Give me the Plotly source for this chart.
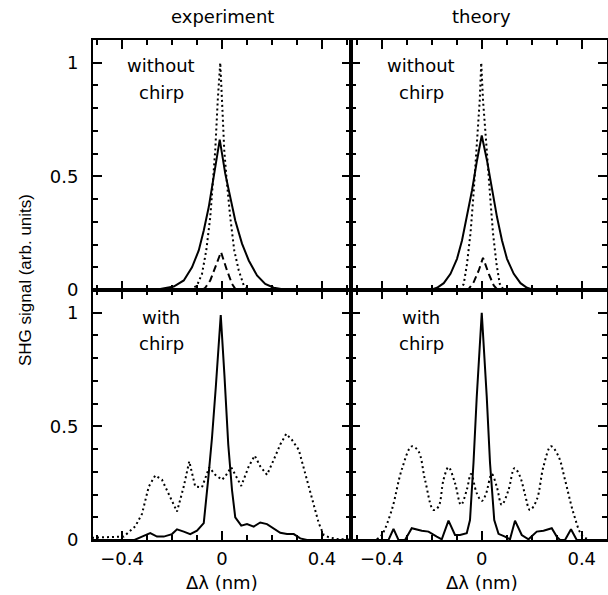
import plotly.graph_objects as go
from plotly.subplots import make_subplots

# ---------------- data ----------------
# experiment, without chirp
exp_nc_solid_x = [-0.52, -0.3, -0.247, -0.193, -0.153, -0.12, -0.093, -0.073, -0.053, -0.033, -0.009,
                  0.013, 0.033, 0.053, 0.08, 0.107, 0.14, 0.173, 0.207, 0.26, 0.52]
exp_nc_solid_y = [0, 0, 0.004, 0.015, 0.042, 0.1, 0.174, 0.262, 0.365, 0.497, 0.662,
                  0.512, 0.409, 0.306, 0.204, 0.13, 0.064, 0.027, 0.01, 0, 0]
exp_nc_dot_x = [-0.127, -0.1, -0.08, -0.063, -0.047, -0.036, -0.027, -0.017, -0.007,
                0.0, 0.009, 0.02, 0.033, 0.049, 0.067, 0.087, 0.113]
exp_nc_dot_y = [0, 0.02, 0.071, 0.174, 0.32, 0.468, 0.615, 0.835, 1.0,
                0.835, 0.615, 0.468, 0.32, 0.174, 0.086, 0.02, 0]
exp_nc_dash_x = [-0.08, -0.067, -0.047, -0.027, -0.004, 0.02, 0.04, 0.053, 0.065]
exp_nc_dash_y = [0, 0.01, 0.042, 0.1, 0.167, 0.086, 0.027, 0.005, 0]

# theory, without chirp
th_nc_solid_x = [-0.52, -0.205, -0.179, -0.152, -0.125, -0.099, -0.079, -0.059, -0.039, -0.019, 0,
                 0.021, 0.041, 0.061, 0.081, 0.101, 0.128, 0.155, 0.181, 0.208, 0.52]
th_nc_solid_y = [0, 0, 0.01, 0.03, 0.071, 0.137, 0.218, 0.321, 0.438, 0.57, 0.68,
                 0.57, 0.438, 0.321, 0.218, 0.137, 0.071, 0.03, 0.01, 0, 0]
th_nc_dot_x = [-0.085, -0.072, -0.059, -0.045, -0.035, -0.025, -0.016, -0.008, -0.002,
               0.005, 0.015, 0.024, 0.035, 0.045, 0.059, 0.072, 0.088]
th_nc_dot_y = [0, 0.027, 0.115, 0.25, 0.39, 0.54, 0.69, 0.835, 1.0,
               0.835, 0.69, 0.54, 0.39, 0.25, 0.115, 0.027, 0]
th_nc_dash_x = [-0.065, -0.052, -0.032, -0.012, 0.005, 0.028, 0.048, 0.064]
th_nc_dash_y = [0, 0.005, 0.035, 0.086, 0.142, 0.071, 0.02, 0]

# experiment, with chirp
exp_c_solid_x = [-0.52, -0.35, -0.32, -0.287, -0.26, -0.233, -0.2, -0.18, -0.153, -0.127, -0.1,
                 -0.073, -0.055, -0.04, -0.025, -0.005, 0.01, 0.025, 0.04, 0.053, 0.077, 0.1,
                 0.127, 0.153, 0.18, 0.207, 0.233, 0.26, 0.287, 0.313, 0.34, 0.52]
exp_c_solid_y = [0, 0, 0.015, 0.03, 0.015, 0.015, 0.026, 0.047, 0.037, 0.026, 0.041,
                 0.074, 0.27, 0.45, 0.67, 0.99, 0.72, 0.42, 0.22, 0.1, 0.063, 0.07,
                 0.059, 0.077, 0.07, 0.052, 0.032, 0.026, 0.026, 0.007, 0, 0]
exp_c_dot_x = [-0.52, -0.393, -0.347, -0.32, -0.293, -0.267, -0.24, -0.207, -0.18, -0.153, -0.131,
               -0.107, -0.08, -0.051, -0.027, 0, 0.013, 0.037, 0.057, 0.077, 0.107, 0.131,
               0.153, 0.18, 0.207, 0.233, 0.257, 0.28, 0.307, 0.333, 0.36, 0.387, 0.407,
               0.427, 0.467, 0.52]
exp_c_dot_y = [0.01, 0.015, 0.06, 0.115, 0.235, 0.284, 0.265, 0.19, 0.125, 0.235, 0.346,
               0.235, 0.232, 0.32, 0.287, 0.265, 0.28, 0.32, 0.28, 0.238, 0.324, 0.371,
               0.324, 0.287, 0.353, 0.42, 0.467, 0.44, 0.397, 0.294, 0.177, 0.074, 0.022,
               0.012, 0.003, 0.003]

# theory, with chirp
th_c_solid_x = [-0.53, -0.42, -0.373, -0.353, -0.333, -0.307, -0.28, -0.24, -0.213, -0.18, -0.16,
                -0.133, -0.107, -0.087, -0.06, -0.047, -0.033, -0.02, 0, 0.02, 0.033, 0.05,
                0.067, 0.093, 0.113, 0.133, 0.16, 0.187, 0.22, 0.247, 0.28, 0.3, 0.313,
                0.333, 0.357, 0.38, 0.52]
th_c_solid_y = [0, 0, 0, 0.049, 0, 0, 0.052, 0.041, 0.037, 0.015, 0.003,
                0.085, 0.022, 0.022, 0.03, 0.088, 0.34, 0.63, 1.0, 0.63, 0.34, 0.088,
                0.027, 0.015, 0.003, 0.085, 0.022, 0.003, 0.037, 0.041, 0.052, 0.015, 0,
                0, 0.047, 0, 0]
th_c_dot_x = [-0.42, -0.4, -0.36, -0.32, -0.28, -0.253, -0.227, -0.193, -0.173, -0.153, -0.133,
              -0.107, -0.083, -0.06, -0.043, -0.02, 0, 0.016, 0.04, 0.06, 0.08, 0.107, 0.131,
              0.153, 0.173, 0.193, 0.22, 0.247, 0.277, 0.307, 0.333, 0.367, 0.4, 0.427]
th_c_dot_y = [0.003, 0.022, 0.132, 0.31, 0.412, 0.39, 0.265, 0.132, 0.147, 0.265, 0.32,
              0.25, 0.155, 0.22, 0.29, 0.206, 0.172, 0.2, 0.29, 0.235, 0.155, 0.22, 0.316,
              0.28, 0.2, 0.132, 0.177, 0.324, 0.412, 0.368, 0.265, 0.118, 0.022, 0.003]

column_titles = ["experiment", "theory"]
x_tick_vals = [-0.4, 0, 0.4]
x_tick_text = ["\u22120.4", "0", "0.4"]
y_tick_vals = [0, 0.5, 1]
y_tick_text = ["0", "0.5", "1"]
x_title = "\u0394\u03bb (nm)"
y_title = "SHG signal (arb. units)"

# ---------------- figure ----------------
FONT = "DejaVu Sans"
fig = make_subplots(rows=2, cols=2, horizontal_spacing=0, vertical_spacing=0)

def add(x, y, row, col, dash, shape="linear"):
    fig.add_trace(go.Scatter(x=x, y=y, mode="lines",
                             line=dict(color="black", width=2, dash=dash, shape=shape),
                             showlegend=False, hoverinfo="skip"), row=row, col=col)

DOT = "2px,3px"
DASH = "7px,4px"
add(exp_nc_solid_x, exp_nc_solid_y, 1, 1, "solid")
add(exp_nc_dot_x, exp_nc_dot_y, 1, 1, DOT)
add(exp_nc_dash_x, exp_nc_dash_y, 1, 1, DASH)
add(th_nc_solid_x, th_nc_solid_y, 1, 2, "solid")
add(th_nc_dot_x, th_nc_dot_y, 1, 2, DOT)
add(th_nc_dash_x, th_nc_dash_y, 1, 2, DASH)
add(exp_c_solid_x, exp_c_solid_y, 2, 1, "solid")
add(exp_c_dot_x, exp_c_dot_y, 2, 1, DOT)
add(th_c_solid_x, th_c_solid_y, 2, 2, "solid")
add(th_c_dot_x, th_c_dot_y, 2, 2, DOT, "spline")

W, H = 608, 595
L, R, T, B = 93, 1, 40, 55
split = (351 - L) / (W - L - R)

common_x = dict(showline=True, linewidth=2, linecolor="black", mirror="ticks",
                ticks="inside", ticklen=9, tickwidth=2, tickcolor="black",
                tickmode="array", tickvals=x_tick_vals, ticktext=x_tick_text,
                minor=dict(ticks="inside", tickmode="linear", tick0=0, dtick=0.1,
                           ticklen=5, tickwidth=1.5, tickcolor="black"),
                showgrid=False, zeroline=False, automargin=False,
                tickfont=dict(family=FONT, size=18, color="black"), ticklabelstandoff=1)
common_y = dict(showline=True, linewidth=2, linecolor="black", mirror="ticks",
                ticks="inside", ticklen=9, tickwidth=2, tickcolor="black",
                tickmode="array", tickvals=y_tick_vals, ticktext=y_tick_text,
                minor=dict(ticks="inside", tickmode="linear", tick0=0, dtick=0.1,
                           ticklen=5, tickwidth=1.5, tickcolor="black"),
                showgrid=False, zeroline=False, range=[0, 1.1], automargin=False,
                tickfont=dict(family=FONT, size=18, color="black"), ticklabelstandoff=9)

for r in (1, 2):
    for c in (1, 2):
        xr = [-0.516, 0.516] if c == 1 else [-0.523, 0.501]
        dom = [0, split] if c == 1 else [split, 1]
        fig.update_xaxes(common_x, range=xr, domain=dom, showticklabels=(r == 2), row=r, col=c)
        fig.update_yaxes(common_y, showticklabels=(c == 1), row=r, col=c)

ann = []
pw = W - L - R
for i, t in enumerate(column_titles):
    cx = (222 if i == 0 else 481.7)
    ann.append(dict(text=t, x=(cx - L) / pw, y=(540 - 17) / 500, xref="paper", yref="paper",
                    showarrow=False, font=dict(family=FONT, size=18, color="black"),
                    xanchor="center", yanchor="middle"))
    ann.append(dict(text=x_title, x=(cx - L) / pw, y=(540 - 582) / 500, xref="paper", yref="paper",
                    showarrow=False, font=dict(family=FONT, size=18, color="black"),
                    xanchor="center", yanchor="middle"))
ann.append(dict(text=y_title, x=(25 - L) / pw, y=(540 - 280) / 500, xref="paper", yref="paper",
                textangle=-90, showarrow=False,
                font=dict(family="Liberation Sans", size=17, color="black"),
                xanchor="center", yanchor="middle"))

panel_text = [("x", "y", "without", 0.99), ("x", "y", "chirp", 0.87),
              ("x2", "y2", "without", 0.99), ("x2", "y2", "chirp", 0.87),
              ("x3", "y3", "with", 0.977), ("x3", "y3", "chirp", 0.866),
              ("x4", "y4", "with", 0.977), ("x4", "y4", "chirp", 0.866)]
for xr_, yr_, t, yv in panel_text:
    ann.append(dict(text=t, x=-0.243, y=yv, xref=xr_, yref=yr_, showarrow=False,
                    font=dict(family=FONT, size=18, color="black"),
                    xanchor="center", yanchor="middle"))

fig.update_layout(width=W, height=H, margin=dict(l=L, r=R, t=T, b=B, autoexpand=False),
                  paper_bgcolor="white", plot_bgcolor="white", annotations=ann,
                  showlegend=False)
fig.write_html("out.html", config={"displayModeBar": False},
               post_script="document.body.style.margin='0px';document.body.style.overflow='hidden';")
